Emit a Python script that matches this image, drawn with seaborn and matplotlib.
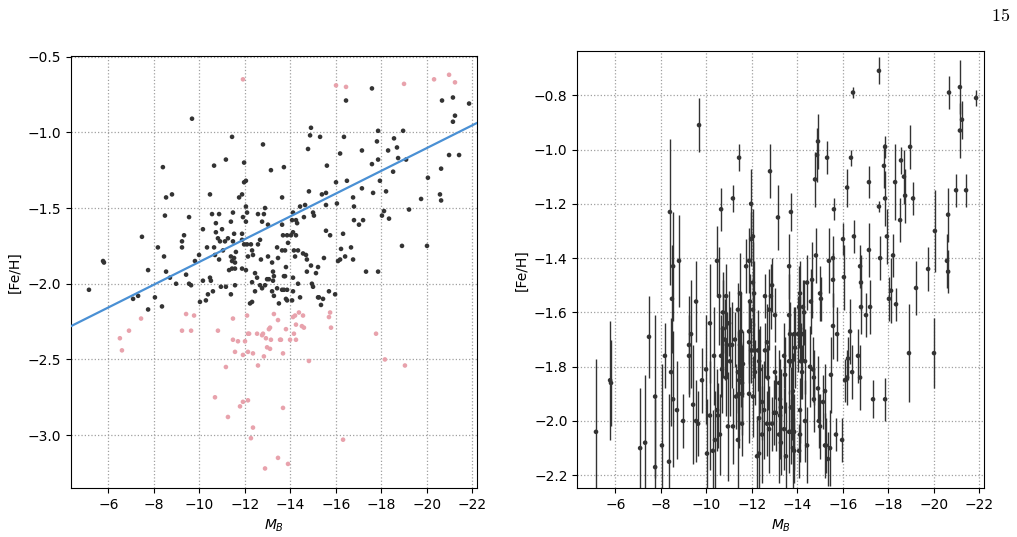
import numpy as np
import pandas as pd
import matplotlib
matplotlib.use('Agg')
import matplotlib.pyplot as plt
import seaborn as sns

# Absolute B magnitude, [Fe/H] and [Fe/H] error of the galaxies kept in the fit
mb_dark = (
    [-9.68, -11.44, -12.80, -8.40, -10.65, -11.17, -11.97, -13.15, -8.54, -8.80,
     -10.47, -11.75, -11.88, -11.97, -12.05, -12.05, -8.49, -9.55, -10.56, -10.87,
     -11.48, -11.92, -12.05, -12.10, -12.58, -12.84, -12.89, -7.48, -8.18, -9.24,
     -9.33, -9.24, -10.16, -10.73, -11.00, -10.73, -11.39, -12.76, -13.02, -11.88,
     -11.88, -12.10, -11.97, -12.27, -12.32, -12.58, -12.67, -10.82, -10.91, -11.13,
     -11.26, -11.53, -11.48, -10.34, -10.65, -11.04, -11.61, -10.69, -10.87, -8.45,
     -9.81, -9.99, -11.39, -11.53, -11.44, -11.57, -12.14, -12.36, -12.71, -13.02,
     -13.46, -13.20, -13.24, -11.88, -11.57, -11.31, -11.44, -5.77, -5.81, -7.75,
     -8.54, -8.71, -9.42, -10.47, -10.16, -12.45, -12.54, -12.98, -13.24, -13.42]
    + [-5.15, -7.09, -7.31, -7.75, -8.05, -8.36, -8.98, -9.55, -9.64, -10.03,
       -10.29, -10.38, -10.51, -10.60, -10.95, -11.17, -11.39, -11.57, -12.05, -12.32,
       -12.45, -12.32, -12.23, -12.67, -12.76, -12.89, -13.06, -13.20, -13.28, -13.42,
       -13.50]
    + [-17.59, -16.45, -20.67, -21.15, -21.86, -21.24, -21.15, -14.91, -14.87, -15.31,
       -14.78, -13.72, -15.61, -16.19, -16.36, -17.15, -17.86, -17.81, -18.30, -18.56,
       -18.69, -18.74, -19.09, -18.96, -17.59, -17.86, -18.52, -17.94, -18.21, -20.98,
       -21.42, -20.63, -20.05, -20.58, -20.63, -19.75, -13.64, -14.82, -15.39, -15.57,
       -16.01, -16.49, -15.57, -16.05, -16.76, -17.15, -17.64, -16.80, -18.12, -18.03,
       -18.34, -19.22, -14.12, -14.43, -14.65, -15.00, -15.04, -14.60, -14.08, -14.25,
       -14.30, -13.64, -13.68, -13.86, -14.03, -14.25, -14.12, -13.90, -13.64, -13.77,
       -14.16, -14.34, -14.21, -14.56, -14.69, -14.73, -13.81, -14.91, -15.22, -15.48,
       -15.57, -15.75, -16.23, -16.67, -16.32, -16.19, -16.10, -16.41, -16.76, -16.80,
       -17.02, -17.20, -18.91, -20.01, -14.73, -15.13, -17.33, -17.86, -13.72, -14.12]
    + [-13.28, -13.77, -14.34, -14.95, -15.00, -15.70, -15.97, -15.22, -15.26, -15.44,
       -15.35, -13.64, -13.72, -13.86, -14.12, -13.81, -13.86, -14.08, -14.43]
)
feh_dark = (
    [-0.91, -1.03, -1.08, -1.23, -1.22, -1.18, -1.20, -1.25, -1.43, -1.41,
     -1.41, -1.43, -1.41, -1.33, -1.32, -1.49, -1.55, -1.56, -1.54, -1.54,
     -1.53, -1.56, -1.59, -1.53, -1.54, -1.54, -1.50, -1.69, -1.76, -1.72,
     -1.68, -1.76, -1.64, -1.60, -1.64, -1.66, -1.59, -1.59, -1.61, -1.67,
     -1.71, -1.74, -1.74, -1.74, -1.78, -1.74, -1.71, -1.70, -1.72, -1.72,
     -1.70, -1.67, -1.72, -1.76, -1.76, -1.78, -1.79, -1.81, -1.84, -1.82,
     -1.85, -1.81, -1.82, -1.83, -1.85, -1.86, -1.82, -1.81, -1.84, -1.82,
     -1.83, -1.86, -1.92, -1.90, -1.90, -1.91, -1.90, -1.85, -1.86, -1.91,
     -1.92, -1.96, -1.94, -1.96, -1.98, -1.93, -1.96, -1.97, -1.98, -1.76]
    + [-2.04, -2.10, -2.08, -2.17, -2.09, -2.15, -2.00, -2.00, -2.01, -2.12,
       -2.11, -2.07, -1.98, -2.05, -2.02, -2.02, -2.07, -2.01, -1.91, -1.99,
       -2.05, -2.12, -2.13, -2.01, -2.03, -2.01, -1.97, -2.05, -2.08, -2.03,
       -2.13]
    + [-0.71, -0.79, -0.79, -0.77, -0.81, -0.89, -0.93, -0.97, -1.02, -1.03,
       -1.11, -1.23, -1.22, -1.14, -1.03, -1.12, -0.99, -1.06, -1.12, -1.04,
       -1.10, -1.17, -1.18, -0.99, -1.21, -1.18, -1.26, -1.32, -1.39, -1.15,
       -1.15, -1.24, -1.30, -1.41, -1.45, -1.44, -1.43, -1.39, -1.41, -1.40,
       -1.33, -1.32, -1.48, -1.47, -1.43, -1.37, -1.40, -1.49, -1.52, -1.55,
       -1.57, -1.51, -1.53, -1.49, -1.48, -1.53, -1.55, -1.56, -1.58, -1.58,
       -1.60, -1.61, -1.68, -1.68, -1.68, -1.68, -1.66, -1.73, -1.78, -1.78,
       -1.78, -1.78, -1.82, -1.80, -1.81, -1.84, -1.89, -1.88, -1.89, -1.83,
       -1.65, -1.68, -1.77, -1.76, -1.67, -1.84, -1.85, -1.82, -1.84, -1.58,
       -1.61, -1.58, -1.75, -1.75, -1.92, -1.93, -1.92, -1.92, -1.95, -1.96]
    + [-1.95, -1.95, -2.00, -2.00, -2.02, -2.05, -2.07, -2.09, -2.09, -2.10,
       -2.14, -2.04, -2.04, -2.04, -2.05, -2.10, -2.11, -2.11, -2.09]
)
err_dark = (
    [0.10, 0.05, 0.10, 0.27, 0.08, 0.05, 0.13, 0.12, 0.20, 0.17,
     0.13, 0.10, 0.12, 0.10, 0.10, 0.15, 0.20, 0.15, 0.18, 0.12,
     0.15, 0.10, 0.14, 0.12, 0.08, 0.12, 0.10, 0.15, 0.12, 0.18,
     0.20, 0.15, 0.22, 0.15, 0.12, 0.18, 0.10, 0.15, 0.10, 0.12,
     0.15, 0.10, 0.12, 0.15, 0.12, 0.10, 0.14, 0.15, 0.12, 0.16,
     0.10, 0.14, 0.12, 0.18, 0.15, 0.20, 0.12, 0.16, 0.14, 0.20,
     0.12, 0.20, 0.15, 0.12, 0.18, 0.14, 0.12, 0.16, 0.12, 0.10,
     0.14, 0.12, 0.15, 0.18, 0.15, 0.12, 0.20, 0.22, 0.16, 0.30,
     0.25, 0.18, 0.22, 0.15, 0.20, 0.14, 0.18, 0.12, 0.16, 0.12]
    + [0.27, 0.22, 0.25, 0.25, 0.30, 0.25, 0.10, 0.15, 0.12, 0.20,
       0.15, 0.18, 0.12, 0.15, 0.20, 0.14, 0.18, 0.12, 0.15, 0.12,
       0.18, 0.22, 0.15, 0.12, 0.16, 0.10, 0.14, 0.18, 0.12, 0.15,
       0.20]
    + [0.05, 0.02, 0.06, 0.10, 0.03, 0.07, 0.10, 0.10, 0.10, 0.06,
       0.10, 0.07, 0.04, 0.07, 0.03, 0.06, 0.04, 0.08, 0.14, 0.05,
       0.10, 0.10, 0.06, 0.08, 0.02, 0.10, 0.08, 0.10, 0.08, 0.06,
       0.06, 0.10, 0.15, 0.10, 0.08, 0.08, 0.12, 0.10, 0.12, 0.08,
       0.06, 0.06, 0.10, 0.12, 0.08, 0.10, 0.08, 0.10, 0.12, 0.08,
       0.06, 0.10, 0.12, 0.10, 0.14, 0.10, 0.08, 0.12, 0.15, 0.10,
       0.12, 0.15, 0.12, 0.10, 0.14, 0.10, 0.12, 0.15, 0.12, 0.10,
       0.14, 0.12, 0.10, 0.15, 0.12, 0.10, 0.14, 0.12, 0.10, 0.14,
       0.12, 0.10, 0.08, 0.10, 0.12, 0.10, 0.08, 0.10, 0.12, 0.10,
       0.08, 0.10, 0.18, 0.13, 0.12, 0.10, 0.07, 0.08, 0.15, 0.12]
    + [0.14, 0.12, 0.15, 0.10, 0.12, 0.06, 0.08, 0.12, 0.10, 0.14,
       0.10, 0.15, 0.12, 0.14, 0.10, 0.15, 0.12, 0.10, 0.14]
)

# Galaxies rejected from the fit (pink)
mb_pink = [-11.92, -16.01, -16.45, -19.00, -20.32, -20.98, -21.24, -7.44, -6.51, -6.60,
           -6.91, -9.42, -9.24, -9.64, -9.77, -10.82, -11.48, -11.48, -11.57, -11.70,
           -11.92, -12.01, -12.10, -12.14, -12.19, -12.14, -12.36, -12.54, -12.58, -12.76,
           -12.80, -12.93, -13.06, -12.98, -13.11, -13.15, -12.84, -13.28, -13.46, -13.55,
           -11.17, -10.69, -11.26, -11.79, -11.92, -12.14, -12.36, -12.27, -13.46, -12.89,
           -13.11, -13.81, -13.59, -13.99, -14.25, -14.16, -13.68, -14.12, -14.21, -14.38,
           -14.56, -14.25, -14.51, -14.60, -15.70, -15.75, -15.79, -14.82, -17.77, -18.16,
           -19.04, -13.68, -16.32, -13.90]
feh_pink = [-0.65, -0.69, -0.70, -0.68, -0.65, -0.62, -0.67, -2.23, -2.36, -2.44,
            -2.31, -2.20, -2.31, -2.31, -2.21, -2.31, -2.23, -2.37, -2.45, -2.38,
            -2.47, -2.38, -2.21, -2.33, -2.33, -2.45, -2.46, -2.33, -2.54, -2.34,
            -2.33, -2.36, -2.30, -2.42, -2.43, -2.37, -2.48, -2.20, -2.24, -2.37,
            -2.55, -2.75, -2.88, -2.81, -2.78, -2.77, -2.95, -3.02, -3.15, -3.22,
            -2.29, -2.30, -2.37, -2.37, -2.37, -2.33, -2.46, -2.22, -2.21, -2.19,
            -2.21, -2.27, -2.28, -2.29, -2.22, -2.19, -2.29, -2.51, -2.33, -2.50,
            -2.54, -2.82, -3.03, -3.19]

# Linear fit [Fe/H] = intercept + slope * M_B
fit_slope = -0.0752
fit_intercept = -2.608

dark = pd.DataFrame({'MB': mb_dark, 'FeH': feh_dark, 'err': err_dark})
pink = pd.DataFrame({'MB': mb_pink, 'FeH': feh_pink})

dark_col = '#333333'
pink_col = '#e8a2ac'
line_col = '#4a90d4'

fig = plt.figure(figsize=(10.17, 5.37), dpi=100)
ax1 = fig.add_axes([0.0698, 0.0907, 0.3995, 0.8050])
ax2 = fig.add_axes([0.5677, 0.0907, 0.3999, 0.8143])

# Left panel: scatter + fit
sns.scatterplot(data=pink, x='MB', y='FeH', color=pink_col, s=11, edgecolor='none', ax=ax1, zorder=3)
sns.scatterplot(data=dark, x='MB', y='FeH', color=dark_col, s=11, edgecolor='none', ax=ax1, zorder=3)
ax1.axline((0, fit_intercept), slope=fit_slope, color=line_col, lw=1.6, zorder=4)
ax1.set_xlim(-4.36, -22.22)
ax1.set_ylim(-3.351, -0.496)

# Right panel: kept galaxies with error bars
ax2.errorbar(dark['MB'], dark['FeH'], yerr=dark['err'], fmt='none', ecolor=dark_col, elinewidth=1.0, zorder=2)
sns.scatterplot(data=dark, x='MB', y='FeH', color=dark_col, s=11, edgecolor='none', ax=ax2, zorder=3)
ax2.set_xlim(-4.33, -22.21)
ax2.set_ylim(-2.248, -0.637)

for ax in (ax1, ax2):
    ax.grid(True, linestyle=':', color='#a0a0a0', lw=0.9)
    ax.set_axisbelow(True)
    ax.set_xlabel('$M_B$', fontsize=10)
    ax.set_ylabel('[Fe/H]', fontsize=10)
    ax.tick_params(labelsize=10)

fig.text(0.993, 0.987, r'$15$', math_fontfamily='cm', fontsize=13, ha='right', va='top')

plt.savefig('out.png', dpi=100)
